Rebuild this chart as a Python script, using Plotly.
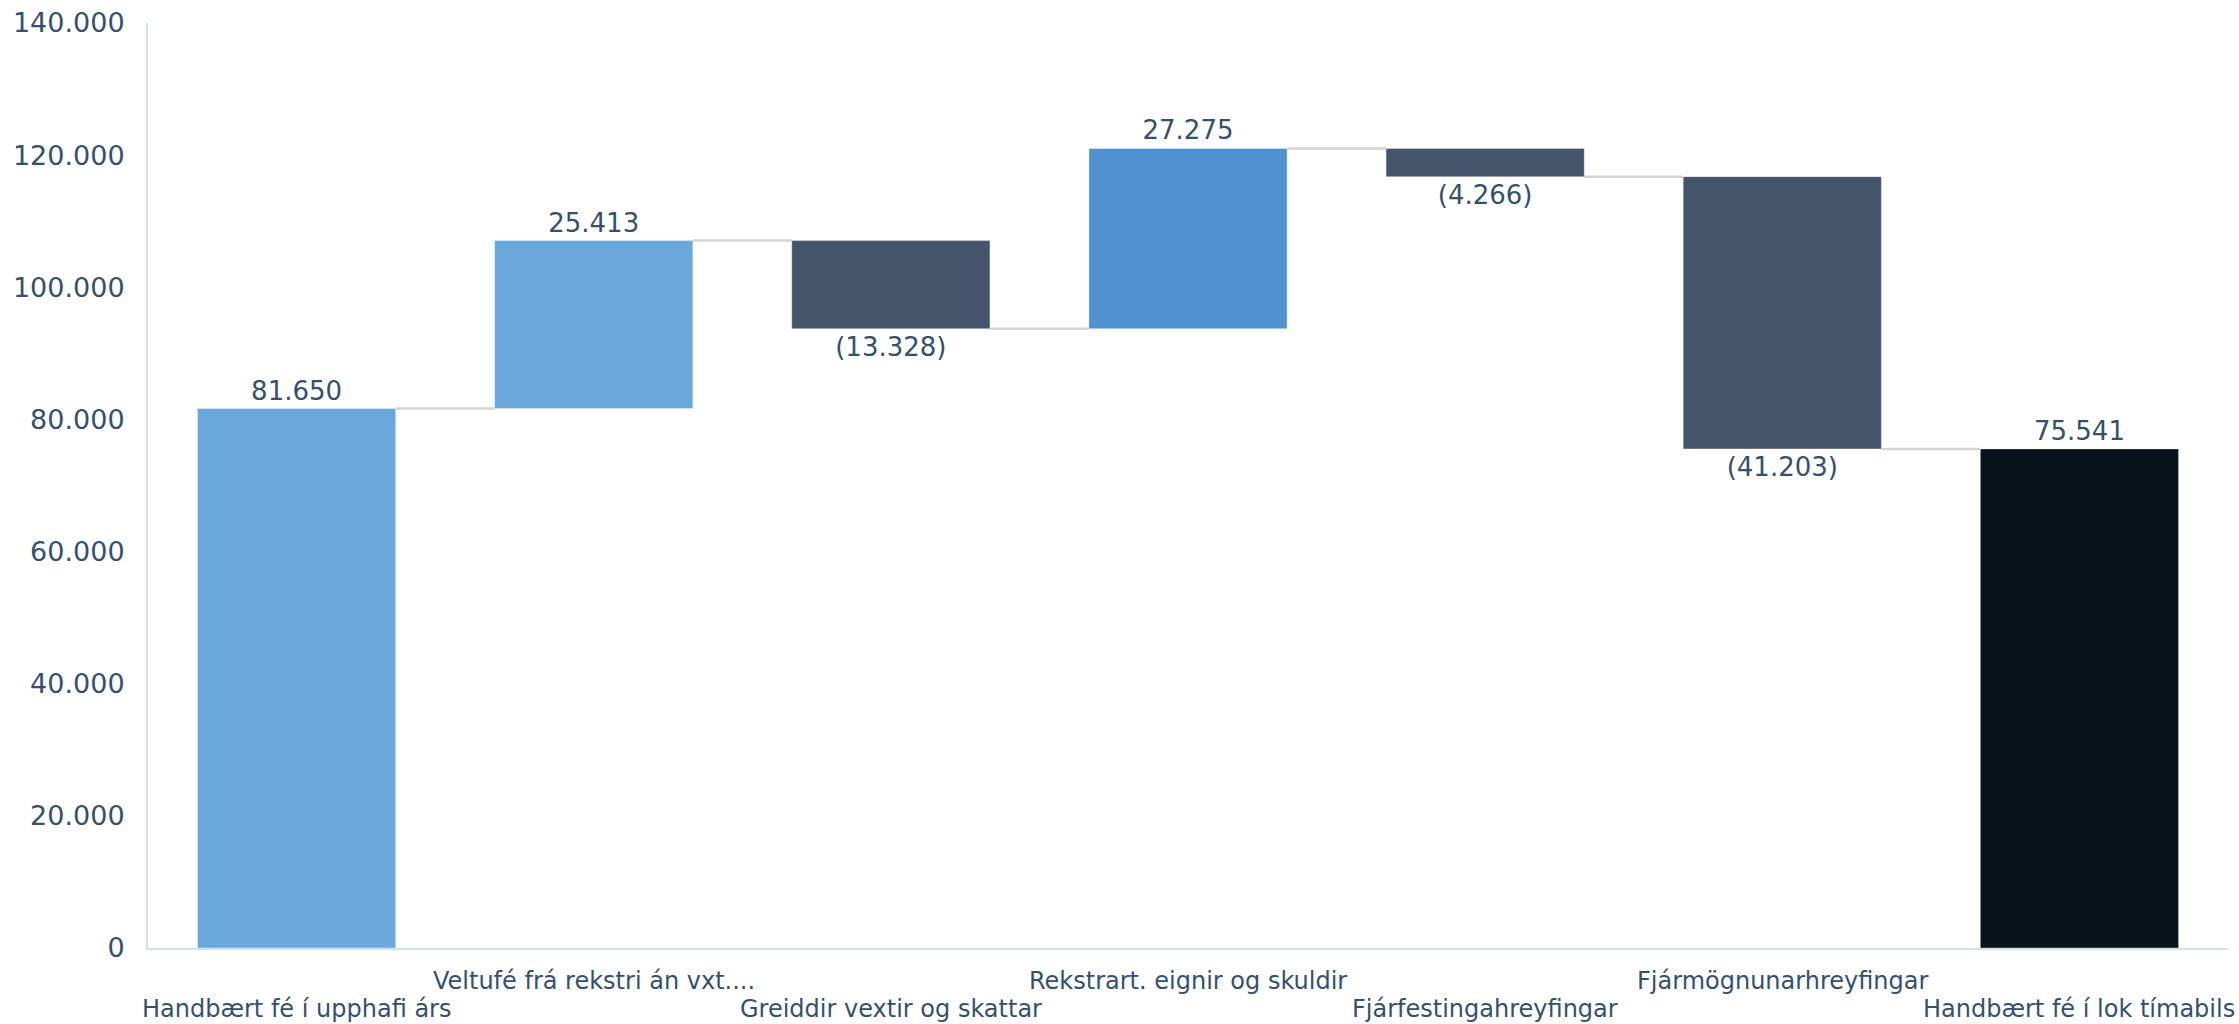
import plotly.graph_objects as go

categories = [
    "Handbært fé í upphafi árs",
    "Veltufé frá rekstri án vxt....",
    "Greiddir vextir og skattar",
    "Rekstrart. eignir og skuldir",
    "Fjárfestingahreyfingar",
    "Fjármögnunarhreyfingar",
    "Handbært fé í lok tímabils",
]
values = [81650, 25413, -13328, 27275, -4266, -41203, 75541]
measures = ["absolute", "relative", "relative", "relative", "relative", "relative", "total"]
colors = ["#6aa8db", "#6aa8db", "#44546a", "#4f92cf", "#44546a", "#44546a", "#08131c"]
y_ticks = [0, 20000, 40000, 60000, 80000, 100000, 120000, 140000]

TEXT = "#34506e"
BAR_W = 0.667


def fmt(v):
    s = f"{abs(v):,}".replace(",", ".")
    return f"({s})" if v < 0 else s


# compute bases from data
bases, ys, levels = [], [], []
running = 0
for v, m in zip(values, measures):
    if m == "absolute":
        bases.append(0); ys.append(v); running = v
    elif m == "total":
        bases.append(0); ys.append(running)
    else:
        bases.append(running); ys.append(v); running += v
    levels.append(running)

xs = list(range(len(categories)))

fig = go.Figure()

# connectors
cx, cy = [], []
for i in range(len(xs) - 1):
    cx += [xs[i] + BAR_W / 2, xs[i + 1] - BAR_W / 2, None]
    cy += [levels[i], levels[i], None]
fig.add_trace(go.Scatter(x=cx, y=cy, mode="lines",
                         line=dict(color="#d4d4d4", width=2.5),
                         showlegend=False, hoverinfo="skip"))

fig.add_trace(go.Bar(
    x=xs, y=ys, base=bases, width=BAR_W,
    marker=dict(color=colors, line=dict(color="rgba(255,255,255,0.35)", width=1)),
    text=[fmt(v) for v in values], textposition="outside",
    textfont=dict(family="DejaVu Sans", size=26, color=TEXT),
    cliponaxis=False, showlegend=False, hoverinfo="skip",
))

# staggered category labels
for i, c in enumerate(categories):
    fig.add_annotation(
        x=xs[i], xref="x", y=0, yref="paper",
        text=c, showarrow=False, xanchor="center", yanchor="top",
        yshift=-45 if i % 2 == 0 else -17,
        font=dict(family="DejaVu Sans", size=24, color=TEXT),
    )

fig.update_layout(
    width=2239, height=1024,
    margin=dict(l=148, r=11, t=23, b=76, autoexpand=False),
    plot_bgcolor="white", paper_bgcolor="white",
    font=dict(family="DejaVu Sans", color=TEXT),
)
fig.update_xaxes(
    range=[-0.5, 6.5], tickvals=xs, showticklabels=False,
    showline=True, linecolor="#cfe2f3", linewidth=2,
    showgrid=False, zeroline=False, ticks="", automargin=False,
)
fig.update_yaxes(
    range=[0, 140000], tickvals=y_ticks,
    ticktext=[fmt(v) for v in y_ticks],
    showline=True, linecolor="#cfe2f3", linewidth=2,
    showgrid=False, zeroline=False, ticks="",
    tickfont=dict(family="DejaVu Sans", size=27, color=TEXT),
    ticklabelstandoff=16, automargin=False,
)
fig.write_html(
    "out.html",
    config={"displayModeBar": False},
    post_script="document.body.style.margin='0';document.body.style.overflow='hidden';",
)
